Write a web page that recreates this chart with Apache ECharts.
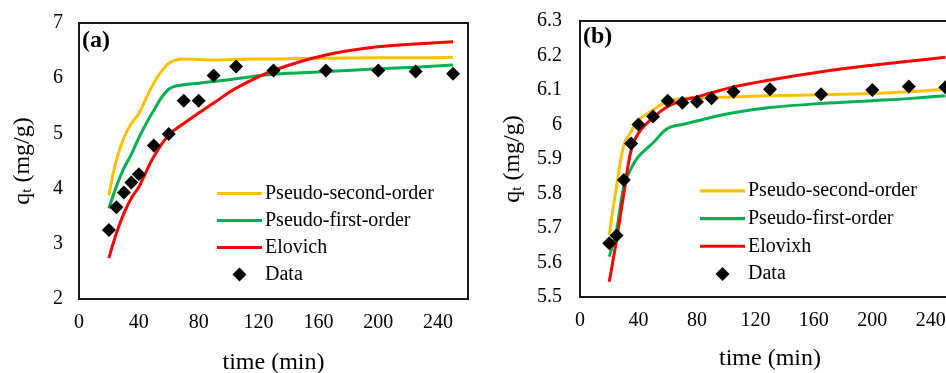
<!DOCTYPE html>
<html>
<head>
<meta charset="utf-8">
<script src="https://cdn.jsdelivr.net/npm/echarts@6/dist/echarts.min.js"></script>
<style>
  html, body { margin: 0; padding: 0; background: #fff; }
  #main { width: 946px; height: 373px; }
</style>
</head>
<body>
<div id="main"></div>
<script>
// time points (min), shared by both panels
var timeA = [20, 25, 30, 35, 40, 50, 60, 70, 80, 90, 105, 130, 165, 200, 225, 250];
var timeB = [20, 25, 30, 35, 40, 50, 60, 70, 80, 90, 105, 130, 165, 200, 225, 250];

// panel (a)
var dataA = [3.25, 3.66, 3.93, 4.11, 4.26, 4.78, 4.99, 5.59, 5.59, 6.05, 6.21, 6.14, 6.14, 6.14, 6.12, 6.08];
var psoA  = [3.88, 4.52, 4.92, 5.18, 5.36, 5.91, 6.27, 6.35, 6.34, 6.33, 6.34, 6.35, 6.36, 6.37, 6.37, 6.38];
var pfoA  = [3.64, 4.04, 4.37, 4.62, 4.92, 5.42, 5.80, 5.88, 5.91, 5.94, 5.99, 6.07, 6.12, 6.17, 6.20, 6.24];
var eloA  = [2.74, 3.19, 3.55, 3.83, 4.03, 4.58, 4.97, 5.18, 5.37, 5.55, 5.82, 6.14, 6.42, 6.57, 6.62, 6.66];

// panel (b)
var dataB = [5.656, 5.678, 5.839, 5.945, 6.0, 6.023, 6.069, 6.063, 6.066, 6.076, 6.095, 6.102, 6.088, 6.1, 6.11, 6.108];
var psoB  = [5.68, 5.82, 5.94, 5.98, 6.013, 6.042, 6.068, 6.075, 6.077, 6.078, 6.08, 6.083, 6.086, 6.09, 6.095, 6.102];
var pfoB  = [5.617, 5.694, 5.82, 5.873, 5.907, 5.947, 5.989, 6.0, 6.01, 6.021, 6.034, 6.049, 6.061, 6.069, 6.075, 6.083];
var eloB  = [5.544, 5.665, 5.80, 5.926, 5.975, 6.02, 6.052, 6.07, 6.08, 6.092, 6.109, 6.129, 6.153, 6.172, 6.183, 6.195];

var namesA = ['Pseudo-second-order', 'Pseudo-first-order', 'Elovich', 'Data'];
var namesB = ['Pseudo-second-order', 'Pseudo-first-order', 'Elovixh', 'Data'];

var FONT = 'Liberation Serif';
var YELLOW = '#FFC000', GREEN = '#00B050', RED = '#FF0000';

// legend icons: flat bar for the fits, small diamond for the data
var LINE_ICON = 'path://M0,0 L45,0 L45,3.2 L0,3.2 Z';
var DIAMOND_ICON = 'path://M6,0 L12,6 L6,12 L0,6 Z';

function pairs(xs, ys) {
    return xs.map(function(x, i) { return [x, ys[i]]; });
}

function lineSeries(name, color, xs, ys, idx) {
    return {
        name: name,
        type: 'line',
        xAxisIndex: idx,
        yAxisIndex: idx,
        data: pairs(xs, ys),
        symbol: 'none',
        smooth: 0.4,
        lineStyle: { color: color, width: 3 },
        itemStyle: { color: color },
        z: 2
    };
}

function dataSeries(xs, ys, idx) {
    return {
        name: 'Data',
        type: 'scatter',
        xAxisIndex: idx,
        yAxisIndex: idx,
        data: pairs(xs, ys),
        symbol: 'diamond',
        symbolSize: 14,
        itemStyle: { color: '#000', opacity: 1 },
        z: 3
    };
}

var yName = '{q|q}{t|t}{q| (mg/g)}';
var yRich = {
    q: { fontFamily: FONT, fontSize: 24, color: '#000', lineHeight: 24, verticalAlign: 'top' },
    t: { fontFamily: FONT, fontSize: 15, color: '#000', lineHeight: 15, padding: [14, 0, 0, 0], verticalAlign: 'bottom' }
};

function xAxis(idx, gap) {
    return {
        gridIndex: idx,
        type: 'value',
        min: 0, max: 260, interval: 40,
        name: 'time (min)',
        nameLocation: 'middle',
        nameGap: gap,
        nameTextStyle: { fontFamily: FONT, fontSize: 24, color: '#000' },
        axisLine: { show: false },
        axisTick: { show: false },
        splitLine: { show: false },
        axisLabel: { fontFamily: FONT, fontSize: 20, color: '#000', margin: 14, showMaxLabel: false }
    };
}

function yAxis(idx, min, max, interval, gap, margin) {
    return {
        gridIndex: idx,
        type: 'value',
        min: min, max: max, interval: interval,
        name: yName,
        nameLocation: 'middle',
        nameGap: gap,
        nameTextStyle: { rich: yRich },
        axisLine: { show: false },
        axisTick: { show: false },
        splitLine: { show: false },
        axisLabel: { fontFamily: FONT, fontSize: 20, color: '#000', margin: margin }
    };
}

function legend(left, top, names, pitch) {
    return {
        orient: 'vertical',
        left: left,
        top: top,
        padding: 0,
        itemGap: 0,
        itemWidth: 45,
        itemHeight: 14,
        symbolKeepAspect: true,
        selectedMode: false,
        textStyle: { fontFamily: FONT, fontSize: 20, color: '#000', lineHeight: pitch, padding: [0, 0, 0, -2] },
        data: names.map(function(n, i) {
            return { name: n, icon: i < 3 ? LINE_ICON : DIAMOND_ICON };
        })
    };
}

var chart = echarts.init(document.getElementById('main'));
chart.setOption({
    animation: false,
    backgroundColor: '#fff',
    title: [
        { text: '(a)', left: 82, top: 29, padding: 0,
          textStyle: { fontFamily: FONT, fontSize: 24, fontWeight: 'bold', color: '#000' } },
        { text: '(b)', left: 583, top: 25, padding: 0,
          textStyle: { fontFamily: FONT, fontSize: 24, fontWeight: 'bold', color: '#000' } }
    ],
    grid: [
        { left: 79, top: 23, width: 389, height: 276, outerBoundsMode: 'none',
          show: true, borderColor: '#1a1a1a', borderWidth: 2 },
        { left: 580, top: 21, width: 380, height: 276, outerBoundsMode: 'none',
          show: true, borderColor: '#1a1a1a', borderWidth: 2 }
    ],
    xAxis: [xAxis(0, 52), xAxis(1, 50)],
    yAxis: [yAxis(0, 2, 7, 1, 44, 16), yAxis(1, 5.5, 6.3, 0.1, 55, 18)],
    legend: [legend(217, 180, namesA, 27), legend(700, 177, namesB, 27.7)],
    series: [
        lineSeries('Pseudo-second-order', YELLOW, timeA, psoA, 0),
        lineSeries('Pseudo-first-order', GREEN, timeA, pfoA, 0),
        lineSeries('Elovich', RED, timeA, eloA, 0),
        dataSeries(timeA, dataA, 0),
        lineSeries('Pseudo-second-order', YELLOW, timeB, psoB, 1),
        lineSeries('Pseudo-first-order', GREEN, timeB, pfoB, 1),
        lineSeries('Elovixh', RED, timeB, eloB, 1),
        dataSeries(timeB, dataB, 1)
    ]
});
</script>
</body>
</html>
